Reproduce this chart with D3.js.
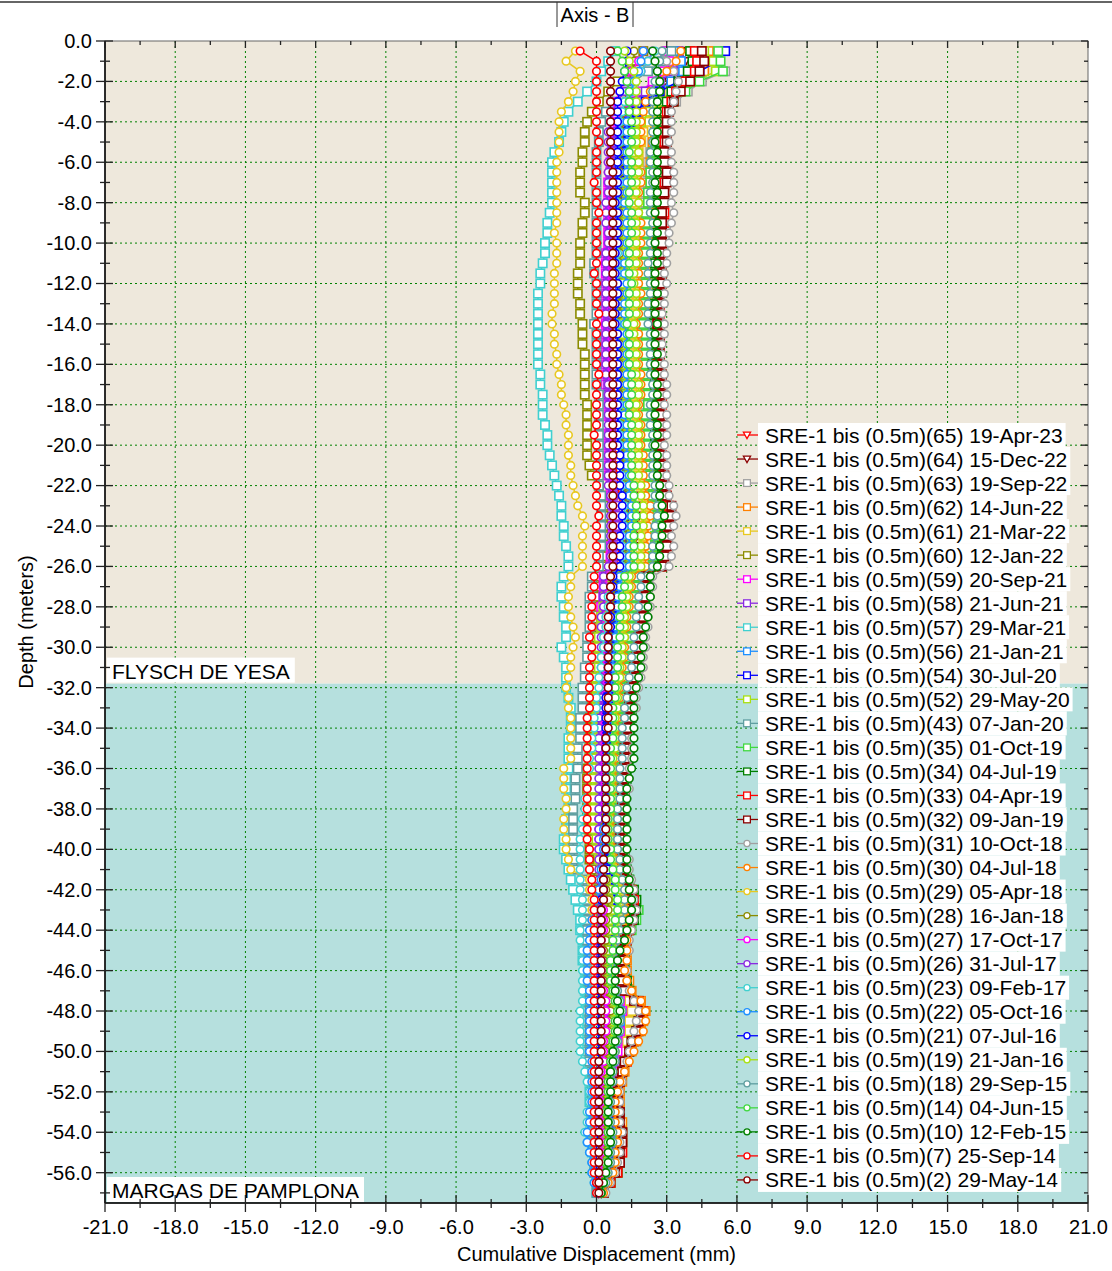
<!DOCTYPE html>
<html>
<head>
<meta charset="utf-8">
<script src="https://cdn.jsdelivr.net/npm/d3@7"></script>
<style>
  body { margin: 0; background: #fff; }
  svg { display: block; font-family: "Liberation Sans", Arial, Helvetica, sans-serif; }
</style>
</head>
<body>
<div id="chart"></div>
<script>
// readings every 0.5 m, from -0.5 m down to -57.0 m
const depths = d3.range(1, 115).map(i => -0.5 * i);

const xTicks = d3.range(-21, 21.1, 3);
const yTicks = d3.range(0, -56.1, -2);

const zones = [
  { name: "FLYSCH DE YESA", top: 0, bottom: -31.8, fill: "#eee8dc" },
  { name: "MARGAS DE PAMPLONA", top: -31.8, bottom: -57.5, fill: "#b6e0de" }
];

const seriesLabels = [
  "SRE-1 bis (0.5m)(65) 19-Apr-23", "SRE-1 bis (0.5m)(64) 15-Dec-22", "SRE-1 bis (0.5m)(63) 19-Sep-22",
  "SRE-1 bis (0.5m)(62) 14-Jun-22", "SRE-1 bis (0.5m)(61) 21-Mar-22", "SRE-1 bis (0.5m)(60) 12-Jan-22",
  "SRE-1 bis (0.5m)(59) 20-Sep-21", "SRE-1 bis (0.5m)(58) 21-Jun-21", "SRE-1 bis (0.5m)(57) 29-Mar-21",
  "SRE-1 bis (0.5m)(56) 21-Jan-21", "SRE-1 bis (0.5m)(54) 30-Jul-20", "SRE-1 bis (0.5m)(52) 29-May-20",
  "SRE-1 bis (0.5m)(43) 07-Jan-20", "SRE-1 bis (0.5m)(35) 01-Oct-19", "SRE-1 bis (0.5m)(34) 04-Jul-19",
  "SRE-1 bis (0.5m)(33) 04-Apr-19", "SRE-1 bis (0.5m)(32) 09-Jan-19", "SRE-1 bis (0.5m)(31) 10-Oct-18",
  "SRE-1 bis (0.5m)(30) 04-Jul-18", "SRE-1 bis (0.5m)(29) 05-Apr-18", "SRE-1 bis (0.5m)(28) 16-Jan-18",
  "SRE-1 bis (0.5m)(27) 17-Oct-17", "SRE-1 bis (0.5m)(26) 31-Jul-17", "SRE-1 bis (0.5m)(23) 09-Feb-17",
  "SRE-1 bis (0.5m)(22) 05-Oct-16", "SRE-1 bis (0.5m)(21) 07-Jul-16", "SRE-1 bis (0.5m)(19) 21-Jan-16",
  "SRE-1 bis (0.5m)(18) 29-Sep-15", "SRE-1 bis (0.5m)(14) 04-Jun-15", "SRE-1 bis (0.5m)(10) 12-Feb-15",
  "SRE-1 bis (0.5m)(7) 25-Sep-14", "SRE-1 bis (0.5m)(2) 29-May-14"
];

// cumulative displacement (mm) per reading, top to bottom
const s65 = [3.0,3.2,3.0,2.5,1.9,1.5,1.2,1.0,
  0.9,0.8,0.8,0.8,0.7,0.7,0.7,0.7,0.7,0.7,0.7, 0.7,0.7,0.7,0.6,0.7,0.7,0.7,0.7,0.6,0.7,0.7,
  0.7,0.7,0.7,0.7,0.8,0.8,0.8,0.8,0.8,0.8,0.8, 0.8,0.9,0.9,1.0,1.1,1.1,1.0,1.0,1.0,0.9,0.9,
  0.5,0.5,0.5,0.4,0.4,0.4,0.4,0.3,0.3,0.3, 0.3,0.3,0.3,0.2,0.2,0.2,0.2,0.2,0.2,0.2, 0.2,0.2,0.2,0.2,0.2,0.1,0.1,0.2,0.2,0.3,
  0.4,0.5,0.5,0.5,0.5,0.4,0.4,0.4, 0.4,0.4,0.4,0.5,0.7,0.8,0.7,0.7, 0.6,0.5,0.5,0.4,0.4,0.4,0.3,0.3, 0.4,0.4,0.4,0.4,0.3,0.3,0.2,0.1];
const s64 = [3.6,3.8,3.6,3.1,2.6,2.2,1.9,1.7,
  1.6,1.5,1.5,1.4,1.4,1.4,1.3,1.3,1.3,1.4,1.4, 1.3,1.3,1.3,1.3,1.3,1.2,1.2,1.3,1.3,1.3,1.3,
  1.3,1.3,1.3,1.4,1.4,1.4,1.3,1.3,1.4,1.4,1.4, 1.4,1.5,1.5,1.6,1.7,1.8,1.7,1.7,1.6,1.6,1.5,
  1.0,1.0,1.0,0.9,0.9,0.9,0.8,0.8,0.8,0.7, 0.7,0.7,0.6,0.6,0.6,0.6,0.5,0.5,0.5,0.5, 0.5,0.5,0.5,0.5,0.4,0.4,0.4,0.5,0.5,0.6,
  0.7,0.8,0.9,0.9,0.8,0.8,0.7,0.7, 0.7,0.7,0.7,0.8,1.1,1.2,1.2,1.1, 1.0,0.9,0.8,0.7,0.6,0.6,0.6,0.6, 0.7,0.7,0.7,0.7,0.6,0.5,0.4,0.2];
const s63 = [4.5,4.9,5.5,4.5,3.9,3.4,3.0,2.7,
  2.5,2.4,2.3,2.2,2.2,2.1,2.1,2.0,2.0,2.0,2.0, 2.0,1.9,1.9,1.9,2.0,2.0,1.9,1.9,1.9,2.0,2.0,
  2.0,2.0,2.0,2.1,2.1,2.0,2.0,2.1,2.1,2.1,2.1, 2.2,2.2,2.3,2.4,2.6,2.7,2.6,2.6,2.5,2.4,2.4,
  1.6,1.6,1.5,1.5,1.4,1.4,1.3,1.3,1.2,1.2, 1.1,1.1,1.0,1.0,0.9,0.9,0.9,0.9,0.8,0.8, 0.8,0.8,0.8,0.8,0.8,0.8,0.8,0.9,1.0,1.1,
  1.3,1.4,1.5,1.5,1.4,1.3,1.2,1.1, 1.1,1.1,1.1,1.2,1.5,1.7,1.6,1.5, 1.4,1.3,1.1,1.0,0.9,0.8,0.8,0.8, 0.9,1.0,1.0,0.9,0.9,0.7,0.5,0.3];
const s62 = [4.8,4.9,4.6,4.0,3.5,3.1,2.8,2.6,
  2.5,2.4,2.4,2.3,2.3,2.3,2.2,2.2,2.3,2.3,2.2, 2.2,2.2,2.1,2.1,2.2,2.2,2.1,2.1,2.1,2.2,2.2,
  2.2,2.2,2.1,2.2,2.2,2.3,2.3,2.2,2.2,2.3,2.3, 2.3,2.4,2.4,2.5,2.6,2.7,2.6,2.6,2.5,2.5,2.4,
  1.8,1.8,1.7,1.7,1.6,1.6,1.5,1.5,1.4,1.4, 1.3,1.3,1.2,1.2,1.1,1.1,1.0,1.0,1.0,1.0, 1.0,0.9,0.9,0.9,0.9,0.9,0.9,1.0,1.0,1.1,
  1.3,1.5,1.6,1.6,1.5,1.4,1.3,1.3, 1.3,1.3,1.4,1.5,1.9,2.1,2.0,1.9, 1.7,1.5,1.3,1.2,1.1,1.0,1.0,1.0, 1.1,1.1,1.1,1.1,1.0,0.9,0.6,0.3];
const s61 = [4.0,4.2,4.0,3.6,3.1,2.7,2.4,2.2,
  2.0,1.9,1.8,1.8,1.7,1.7,1.7,1.6,1.6,1.6,1.6, 1.6,1.6,1.5,1.5,1.6,1.6,1.5,1.5,1.5,1.6,1.6,
  1.6,1.6,1.6,1.7,1.7,1.7,1.7,1.7,1.7,1.8,1.8, 1.8,1.8,1.9,2.0,2.1,2.1,2.0,2.0,2.0,1.9,1.9,
  1.3,1.3,1.2,1.2,1.1,1.1,1.0,1.0,1.0,0.9, 0.9,0.9,0.8,0.8,0.8,0.7,0.7,0.7,0.7,0.7, 0.6,0.6,0.6,0.6,0.6,0.6,0.6,0.7,0.8,0.9,
  1.1,1.2,1.3,1.3,1.2,1.1,1.0,1.0, 1.0,1.0,1.0,1.1,1.4,1.5,1.4,1.4, 1.3,1.1,1.0,0.9,0.8,0.7,0.7,0.7, 0.8,0.8,0.8,0.8,0.7,0.6,0.4,0.2];
const s60 = [2.0,1.8,1.4,0.9,0.5,0.1,-0.2,-0.4,
  -0.5,-0.5,-0.6,-0.6,-0.7,-0.7,-0.7,-0.5,-0.5,-0.6,-0.6, -0.7,-0.7,-0.7,-0.8,-0.8,-0.8,-0.7,-0.7,-0.6,-0.6,-0.6,
  -0.5,-0.5,-0.5,-0.5,-0.5,-0.4,-0.4,-0.4,-0.4,-0.4,-0.4, -0.3,-0.2,0.1,0.4,0.3,0.3,0.3,0.3,0.3,0.4,0.4,
  0.1,0.1,0.0,0.1,0.2,0.1,0.0,-0.1,-0.1,-0.1, -0.2,-0.2,-0.2,-0.3,-0.3,-0.3,-0.3,-0.3,-0.3,-0.4, -0.4,-0.4,-0.4,-0.4,-0.4,-0.4,-0.3,-0.3,-0.3,-0.2,
  0.0,0.1,0.2,0.2,0.2,0.2,0.2,0.2, 0.2,0.2,0.2,0.3,0.4,0.5,0.5,0.4, 0.4,0.3,0.3,0.3,0.2,0.2,0.2,0.2, 0.3,0.3,0.3,0.3,0.2,0.2,0.1,0.1];
const s59 = [3.0,3.1,2.9,2.4,1.9,1.4,1.1,0.9,
  0.8,0.7,0.7,0.6,0.6,0.5,0.5,0.5,0.5,0.5,0.5, 0.5,0.4,0.4,0.4,0.4,0.4,0.4,0.4,0.4,0.4,0.4,
  0.4,0.4,0.4,0.4,0.5,0.5,0.5,0.4,0.5,0.5,0.5, 0.5,0.5,0.6,0.6,0.7,0.8,0.7,0.7,0.6,0.6,0.6,
  0.3,0.3,0.3,0.2,0.2,0.2,0.2,0.2,0.1,0.1, 0.1,0.1,0.1,0.1,0.1,0.1,0.1,0.1,0.1,0.1, 0.1,0.1,0.1,0.1,0.1,0.1,0.1,0.2,0.2,0.3,
  0.4,0.5,0.6,0.6,0.6,0.6,0.6,0.6, 0.6,0.6,0.7,0.8,1.0,1.1,1.0,1.0, 0.9,0.9,0.8,0.7,0.6,0.5,0.5,0.5, 0.5,0.6,0.6,0.5,0.5,0.4,0.3,0.1];
const s58 = [3.5,3.6,3.3,2.7,2.1,1.6,1.2,1.0,
  0.9,0.8,0.7,0.7,0.6,0.6,0.6,0.6,0.6,0.6,0.6, 0.6,0.5,0.5,0.5,0.5,0.5,0.5,0.5,0.5,0.5,0.5,
  0.5,0.5,0.5,0.5,0.5,0.6,0.6,0.6,0.6,0.6,0.6, 0.6,0.6,0.7,0.7,0.8,0.9,0.8,0.8,0.7,0.7,0.7,
  0.4,0.4,0.3,0.3,0.3,0.3,0.2,0.2,0.2,0.2, 0.2,0.2,0.2,0.1,0.1,0.1,0.1,0.1,0.1,0.1, 0.1,0.1,0.1,0.1,0.1,0.1,0.1,0.1,0.2,0.2,
  0.3,0.4,0.4,0.4,0.4,0.4,0.3,0.3, 0.3,0.3,0.3,0.4,0.5,0.6,0.6,0.5, 0.5,0.4,0.4,0.3,0.3,0.3,0.3,0.3, 0.3,0.4,0.4,0.3,0.3,0.2,0.2,0.1];
const s57 = [0.8,0.5,0.2,0.0,-0.4,-0.8,-1.2,-1.4,
  -1.5,-1.6,-1.8,-1.9,-1.9,-1.9,-1.9,-1.9,-2.0,-2.1,-2.1, -2.2,-2.2,-2.3,-2.4,-2.4,-2.5,-2.5,-2.5,-2.5,-2.5,-2.5,
  -2.5,-2.5,-2.4,-2.4,-2.3,-2.3,-2.3,-2.2,-2.1,-2.1,-2.0, -1.9,-1.8,-1.7,-1.6,-1.5,-1.5,-1.4,-1.4,-1.3,-1.2,-1.2,
  -1.4,-1.5,-1.5,-1.4,-1.4,-1.3,-1.3,-1.5,-1.4,-1.3, -1.3,-1.3,-1.2,-1.1,-1.1,-1.1,-1.2,-1.2,-1.2,-1.2, -1.3,-1.3,-1.2,-1.2,-1.3,-1.3,-1.4,-1.4,-1.3,-1.2,
  -1.1,-1.0,-0.9,-0.8,-0.7,-0.7,-0.6,-0.6, -0.6,-0.5,-0.5,-0.5,-0.4,-0.4,-0.4,-0.4, -0.4,-0.4,-0.3,-0.3,-0.3,-0.3,-0.3,-0.2, -0.2,-0.2,-0.2,-0.2,-0.1,-0.1,0.0,0.0];
const s56 = [3.3,3.6,3.7,3.2,2.6,2.1,1.8,1.5,
  1.4,1.3,1.3,1.2,1.2,1.2,1.2,1.1,1.2,1.2,1.2, 1.2,1.1,1.1,1.1,1.2,1.1,1.1,1.1,1.1,1.1,1.2,
  1.2,1.2,1.2,1.2,1.2,1.2,1.1,1.2,1.2,1.2,1.2, 1.2,1.3,1.3,1.4,1.5,1.5,1.4,1.4,1.4,1.3,1.3,
  0.9,0.9,0.8,0.8,0.8,0.7,0.7,0.7,0.7,0.6, 0.6,0.6,0.5,0.5,0.5,0.5,0.4,0.4,0.4,0.4, 0.4,0.4,0.4,0.3,0.3,0.3,0.3,0.4,0.4,0.5,
  0.6,0.7,0.7,0.7,0.7,0.6,0.6,0.6, 0.6,0.6,0.6,0.7,0.9,1.0,1.0,0.9, 0.8,0.7,0.7,0.6,0.5,0.5,0.5,0.5, 0.6,0.6,0.6,0.6,0.5,0.4,0.3,0.2];
const s54 = [5.5,5.2,4.4,3.5,2.7,2.1,1.7,1.4,
  1.2,1.1,1.1,1.0,1.0,1.0,1.0,1.0,1.0,1.1,1.1, 1.1,1.0,1.0,1.0,1.0,1.0,1.0,1.0,1.0,1.0,1.1,
  1.1,1.1,1.0,1.1,1.1,1.1,1.1,1.1,1.1,1.1,1.2, 1.2,1.2,1.3,1.4,1.5,1.5,1.4,1.3,1.3,1.2,1.2,
  0.8,0.8,0.7,0.7,0.7,0.6,0.6,0.6,0.6,0.5, 0.5,0.5,0.5,0.4,0.4,0.4,0.4,0.4,0.4,0.3, 0.3,0.3,0.3,0.3,0.3,0.2,0.2,0.3,0.3,0.4,
  0.5,0.5,0.6,0.6,0.5,0.5,0.5,0.4, 0.4,0.4,0.4,0.5,0.7,0.8,0.7,0.7, 0.6,0.6,0.5,0.5,0.4,0.4,0.4,0.4, 0.5,0.5,0.5,0.5,0.4,0.3,0.2,0.1];
const s52 = [4.6,5.0,5.1,4.2,3.4,2.8,2.3,1.9,
  1.7,1.6,1.5,1.4,1.4,1.3,1.3,1.3,1.2,1.2,1.2, 1.2,1.1,1.1,1.1,1.2,1.2,1.1,1.1,1.1,1.1,1.2,
  1.2,1.2,1.2,1.2,1.3,1.3,1.2,1.2,1.3,1.3,1.3, 1.3,1.4,1.4,1.5,1.6,1.6,1.5,1.5,1.5,1.4,1.4,
  0.6,0.5,0.4,0.3,0.2,0.2,0.1,0.1,0.1,0.1, 0.0,0.0,0.0,0.0,0.0,0.0,0.0,0.0,-0.1,-0.1, -0.1,-0.1,-0.1,-0.1,-0.1,-0.1,0.0,0.0,0.1,0.2,
  0.4,0.5,0.5,0.6,0.5,0.5,0.4,0.4, 0.4,0.4,0.4,0.5,0.7,0.8,0.7,0.7, 0.6,0.5,0.5,0.4,0.4,0.4,0.3,0.3, 0.4,0.4,0.4,0.4,0.3,0.3,0.2,0.1];
const s43 = [3.2,2.8,2.2,1.6,1.1,0.7,0.4,0.2,
  0.1,0.1,0.0,0.0,0.0,0.0,0.0,0.0,0.0,0.0,0.0, 0.0,0.0,-0.1,-0.1,0.0,0.0,0.0,0.0,-0.1,0.0,0.0,
  0.0,0.0,0.0,0.0,0.1,0.1,0.1,0.1,0.1,0.1,0.1, 0.1,0.1,0.1,0.2,0.2,0.2,0.2,0.2,0.2,0.1,0.1,
  -0.2,-0.2,-0.3,-0.3,-0.3,-0.3,-0.4,-0.4,-0.4,-0.5, -0.5,-0.6,-0.6,-0.6,-0.7,-0.7,-0.7,-0.8,-0.8,-0.8, -0.9,-0.9,-0.9,-1.0,-1.0,-1.0,-1.0,-1.0,-0.9,-0.8,
  -0.6,-0.5,-0.4,-0.4,-0.4,-0.4,-0.4,-0.4, -0.4,-0.4,-0.4,-0.3,-0.3,-0.3,-0.3,-0.3, -0.3,-0.3,-0.3,-0.2,-0.2,-0.2,-0.2,-0.2, -0.2,-0.2,-0.2,-0.1,-0.1,-0.1,0.0,0.0];
const s35 = [5.2,5.3,5.4,4.4,3.8,3.3,3.0,2.7,
  2.6,2.5,2.4,2.4,2.3,2.3,2.2,2.2,2.1,2.1,2.1, 2.1,2.1,2.0,2.0,2.1,2.1,2.0,2.0,2.0,2.1,2.1,
  2.1,2.1,2.1,2.1,2.2,2.2,2.1,2.1,2.2,2.2,2.2, 2.2,2.3,2.3,2.4,2.5,2.6,2.6,2.5,2.5,2.4,2.4,
  1.7,1.7,1.6,1.6,1.5,1.5,1.4,1.4,1.3,1.3, 1.2,1.2,1.1,1.1,1.0,1.0,1.0,0.9,0.9,0.9, 0.9,0.9,0.8,0.8,0.8,0.9,0.9,1.0,1.1,1.2,
  1.4,1.6,1.7,1.8,1.7,1.5,1.3,1.2, 1.2,1.2,1.3,1.4,1.8,2.0,1.9,1.8, 1.6,1.4,1.2,1.1,1.0,0.9,0.9,0.9, 1.0,1.0,1.0,1.0,0.9,0.8,0.5,0.3];
const s34 = [4.0,4.1,3.9,3.5,3.2,3.0,2.9,2.8,
  2.8,2.7,2.7,2.8,2.7,2.7,2.6,2.6,2.7,2.7,2.6, 2.6,2.6,2.5,2.5,2.6,2.6,2.5,2.4,2.4,2.5,2.5,
  2.5,2.4,2.5,2.5,2.6,2.6,2.5,2.6,2.5,2.5,2.6, 2.6,2.7,2.7,2.8,3.0,3.0,2.9,2.9,2.8,2.8,2.7,
  2.2,2.2,2.1,2.1,2.0,2.0,1.9,1.9,1.8,1.8, 1.7,1.6,1.5,1.5,1.5,1.4,1.4,1.4,1.4,1.3, 1.3,1.2,1.2,1.2,1.2,1.2,1.1,1.2,1.2,1.3,
  1.4,1.6,1.7,1.7,1.6,1.4,1.3,1.2, 1.2,1.2,1.3,1.4,1.7,1.9,1.8,1.7, 1.5,1.4,1.2,1.1,1.0,0.9,0.9,0.9, 1.0,1.1,1.1,1.0,1.0,0.9,0.6,0.3];
const s33 = [4.2,4.3,4.2,3.8,3.4,3.2,3.0,3.0,
  2.9,2.9,2.9,3.0,3.0,2.9,2.9,2.8,2.9,2.9,2.8, 2.8,2.8,2.7,2.7,2.8,2.7,2.7,2.7,2.6,2.7,2.7,
  2.7,2.6,2.7,2.7,2.8,2.8,2.7,2.8,2.8,2.7,2.8, 2.8,2.8,2.9,3.0,3.1,3.1,3.0,2.9,3.0,2.9,2.8,
  2.1,2.1,2.0,2.0,1.9,1.9,1.8,1.8,1.7,1.7, 1.6,1.5,1.5,1.4,1.4,1.3,1.3,1.3,1.3,1.2, 1.2,1.2,1.1,1.1,1.1,1.1,1.1,1.1,1.2,1.2,
  1.3,1.5,1.6,1.6,1.5,1.4,1.3,1.2, 1.1,1.1,1.2,1.3,1.8,2.0,1.9,1.8, 1.6,1.4,1.3,1.1,1.0,0.9,0.9,0.9, 1.0,1.1,1.1,1.1,1.0,0.9,0.6,0.3];
const s32 = [4.5,4.6,4.4,4.0,3.6,3.3,3.1,3.0,
  3.0,3.0,2.9,2.9,3.0,3.0,2.9,2.9,2.8,2.8,2.8, 2.8,2.7,2.7,2.8,2.8,2.7,2.7,2.6,2.6,2.7,2.7,
  2.7,2.7,2.8,2.8,2.8,2.7,2.7,2.8,2.7,2.7,2.7, 2.8,2.9,2.9,3.0,3.2,3.2,3.1,3.0,3.0,2.9,2.8,
  2.1,2.1,2.1,2.0,2.0,1.9,1.8,1.8,1.7,1.6, 1.6,1.5,1.4,1.4,1.4,1.3,1.3,1.2,1.2,1.2, 1.2,1.1,1.1,1.1,1.1,1.0,1.0,1.1,1.1,1.2,
  1.3,1.4,1.5,1.6,1.5,1.3,1.2,1.1, 1.1,1.1,1.1,1.2,1.6,1.9,1.8,1.7, 1.5,1.4,1.2,1.1,1.0,0.9,0.9,1.0, 1.0,1.1,1.1,1.0,1.0,0.8,0.5,0.3];
const s31 = [2.8,3.0,3.3,3.5,3.4,3.3,3.2,3.2,
  3.2,3.1,3.2,3.2,3.3,3.3,3.3,3.2,3.3,3.2,3.1, 3.1,3.0,3.0,2.9,3.0,2.9,2.9,2.8,2.9,2.9,2.8,
  2.8,2.9,2.9,3.0,3.0,2.9,3.0,3.0,3.0,2.9,3.0, 3.0,3.0,3.1,3.1,3.3,3.4,3.3,3.2,3.3,3.2,3.1,
  2.4,2.4,2.3,2.3,2.2,2.2,2.1,2.1,2.0,2.0, 1.9,1.8,1.7,1.7,1.6,1.6,1.5,1.5,1.5,1.4, 1.4,1.4,1.3,1.3,1.3,1.3,1.3,1.3,1.4,1.4,
  1.5,1.6,1.6,1.7,1.6,1.5,1.4,1.4, 1.3,1.3,1.3,1.4,1.6,1.8,1.7,1.6, 1.5,1.4,1.3,1.2,1.1,1.0,1.0,1.0, 1.0,1.1,1.0,1.0,0.9,0.8,0.6,0.4];
const s30 = [3.6,3.4,3.0,2.6,2.3,2.1,2.0,1.9,
  1.9,1.9,1.8,1.8,1.9,1.9,1.8,1.8,1.8,1.9,1.9, 1.9,1.8,1.8,1.8,1.8,1.9,1.8,1.8,1.7,1.8,1.8,
  1.8,1.8,1.9,1.9,1.9,1.8,1.8,1.9,1.9,1.9,2.0, 2.0,2.0,2.1,2.1,2.3,2.3,2.2,2.2,2.1,2.1,2.1,
  1.5,1.5,1.4,1.4,1.3,1.3,1.2,1.2,1.2,1.1, 1.1,1.0,1.0,0.9,0.9,0.9,0.9,0.8,0.8,0.8, 0.8,0.8,0.7,0.7,0.7,0.7,0.7,0.8,0.9,1.0,
  1.1,1.2,1.3,1.3,1.3,1.3,1.3,1.3, 1.3,1.2,1.3,1.5,1.9,2.1,2.1,2.0, 1.8,1.6,1.4,1.2,1.0,0.9,0.8,0.8, 0.8,0.9,0.9,0.8,0.8,0.7,0.5,0.3];
const s29 = [-0.9,-1.3,-0.7,-0.9,-1.0,-1.2,-1.5,-1.6,
  -1.6,-1.6,-1.6,-1.7,-1.7,-1.7,-1.7,-1.7,-1.7,-1.7,-1.8, -1.7,-1.7,-1.7,-1.8,-1.8,-1.8,-1.8,-1.9,-1.9,-1.8,-1.8,
  -1.7,-1.7,-1.6,-1.5,-1.5,-1.4,-1.3,-1.3,-1.2,-1.2,-1.2, -1.1,-1.1,-1.0,-0.9,-0.8,-0.6,-0.5,-0.6,-0.6,-0.6,-0.6,
  -1.1,-1.1,-1.2,-1.2,-1.1,-1.0,-0.9,-1.0,-1.1,-1.1, -1.2,-1.3,-1.2,-1.2,-1.1,-1.1,-1.1,-1.1,-1.1,-1.4, -1.4,-1.4,-1.3,-1.3,-1.4,-1.4,-1.3,-1.3,-1.2,-1.1,
  -0.3,-0.3,-0.2,-0.2,-0.2,-0.2,-0.1,-0.1, -0.1,-0.1,0.0,0.0,0.1,0.1,0.1,0.1, 0.1,0.0,0.0,0.1,0.1,0.0,0.0,0.1, 0.1,0.1,0.0,0.0,0.1,0.1,0.0,0.0];
const s28 = [1.6,1.6,1.5,1.4,1.3,1.2,1.2,1.1,
  1.1,1.1,1.0,1.0,1.0,1.0,1.0,1.0,1.0,1.0,1.0, 1.0,1.0,1.0,0.9,0.9,1.0,1.0,1.0,0.9,0.9,1.0,
  1.0,1.0,1.0,1.0,1.0,1.0,1.0,1.1,1.1,1.1,1.1, 1.1,1.1,1.2,1.2,1.3,1.3,1.3,1.2,1.2,1.2,1.2,
  0.8,0.8,0.7,0.7,0.7,0.6,0.6,0.6,0.6,0.5, 0.5,0.5,0.5,0.4,0.4,0.4,0.4,0.4,0.3,0.3, 0.3,0.3,0.3,0.3,0.2,0.2,0.2,0.2,0.3,0.3,
  0.4,0.4,0.5,0.5,0.4,0.4,0.4,0.3, 0.3,0.3,0.3,0.4,0.5,0.6,0.5,0.5, 0.4,0.4,0.4,0.3,0.3,0.3,0.3,0.3, 0.3,0.4,0.4,0.3,0.3,0.3,0.2,0.1];
const s27 = [2.0,1.8,1.5,1.2,1.0,0.8,0.7,0.6,
  0.6,0.6,0.6,0.5,0.5,0.5,0.5,0.5,0.5,0.5,0.5, 0.5,0.5,0.5,0.5,0.5,0.5,0.5,0.4,0.4,0.5,0.5,
  0.5,0.5,0.5,0.5,0.5,0.6,0.6,0.6,0.6,0.6,0.6, 0.6,0.6,0.6,0.7,0.7,0.7,0.7,0.7,0.7,0.7,0.6,
  0.4,0.4,0.4,0.3,0.3,0.3,0.3,0.3,0.3,0.3, 0.3,0.3,0.2,0.2,0.2,0.2,0.2,0.2,0.2,0.2, 0.2,0.2,0.2,0.2,0.1,0.1,0.1,0.1,0.2,0.2,
  0.3,0.3,0.3,0.3,0.3,0.3,0.2,0.2, 0.2,0.2,0.2,0.3,0.4,0.4,0.4,0.4, 0.3,0.3,0.3,0.2,0.2,0.2,0.2,0.2, 0.2,0.2,0.2,0.2,0.2,0.2,0.1,0.1];
const s26 = [2.4,2.2,1.9,1.5,1.2,0.9,0.7,0.6,
  0.5,0.5,0.5,0.5,0.5,0.5,0.5,0.4,0.4,0.4,0.5, 0.5,0.4,0.4,0.4,0.4,0.4,0.4,0.4,0.4,0.4,0.4,
  0.4,0.4,0.4,0.5,0.5,0.5,0.5,0.5,0.5,0.5,0.5, 0.5,0.5,0.5,0.6,0.6,0.6,0.6,0.6,0.6,0.6,0.5,
  0.3,0.3,0.3,0.3,0.2,0.2,0.2,0.2,0.2,0.2, 0.2,0.2,0.2,0.2,0.1,0.1,0.1,0.1,0.1,0.1, 0.1,0.1,0.1,0.1,0.1,0.1,0.1,0.1,0.1,0.1,
  0.1,0.1,0.1,0.1,0.1,0.1,0.0,0.0, 0.0,0.0,0.0,0.1,0.1,0.1,0.1,0.1, 0.1,0.1,0.1,0.0,0.0,0.0,0.0,0.0, 0.0,0.0,0.1,0.1,0.1,0.1,0.0,0.0];
const s23 = [2.5,2.2,1.9,1.6,1.4,1.2,1.1,1.0,
  1.0,1.0,0.9,0.9,0.9,1.0,0.9,0.9,0.9,0.9,0.9, 0.9,0.9,0.9,0.9,0.9,0.9,0.8,0.8,0.9,0.9,0.9,
  0.9,0.9,0.9,0.9,0.9,1.0,1.0,1.0,1.0,1.0,1.0, 1.0,1.1,1.1,1.1,1.2,1.2,1.2,1.1,1.1,1.1,1.1,
  0.6,0.6,0.5,0.5,0.4,0.4,0.3,0.3,0.2,0.2, 0.1,0.1,0.0,0.0,-0.1,-0.1,-0.2,-0.2,-0.3,-0.3, -0.4,-0.4,-0.5,-0.5,-0.6,-0.6,-0.7,-0.7,-0.7,-0.7,
  -0.7,-0.7,-0.6,-0.6,-0.6,-0.7,-0.7,-0.6, -0.6,-0.6,-0.6,-0.6,-0.6,-0.7,-0.7,-0.7, -0.7,-0.7,-0.6,-0.5,-0.4,-0.3,-0.3,-0.4, -0.4,-0.5,-0.4,-0.3,-0.2,-0.2,-0.1,0.0];
const s22 = [2.0,1.9,1.8,1.6,1.5,1.4,1.4,1.3,
  1.3,1.3,1.3,1.3,1.3,1.3,1.3,1.2,1.3,1.3,1.3, 1.3,1.3,1.2,1.2,1.3,1.3,1.2,1.2,1.2,1.3,1.3,
  1.3,1.3,1.3,1.3,1.3,1.3,1.2,1.3,1.3,1.3,1.3, 1.3,1.4,1.4,1.4,1.5,1.5,1.5,1.4,1.4,1.4,1.4,
  1.0,1.0,0.9,0.9,0.9,0.8,0.8,0.8,0.7,0.7, 0.7,0.6,0.6,0.6,0.6,0.5,0.5,0.5,0.5,0.5, 0.4,0.4,0.4,0.4,0.4,0.3,0.3,0.3,0.3,0.2,
  0.2,0.1,0.0,-0.1,-0.2,-0.3,-0.3,-0.4, -0.4,-0.4,-0.4,-0.3,-0.3,-0.3,-0.3,-0.3, -0.3,-0.3,-0.2,-0.2,-0.2,-0.2,-0.2,-0.3, -0.3,-0.4,-0.4,-0.3,-0.2,-0.2,-0.1,0.0];
const s21 = [1.3,1.3,1.2,1.1,1.0,0.9,0.9,0.9,
  0.9,0.9,0.9,0.9,0.9,0.9,0.9,0.8,0.9,0.9,0.9, 0.9,0.8,0.8,0.8,0.9,0.9,0.8,0.8,0.8,0.9,0.9,
  0.9,0.9,0.9,0.9,0.9,0.9,0.9,0.9,0.9,0.9,1.0, 1.0,1.0,1.0,1.1,1.1,1.1,1.1,1.0,1.0,1.0,1.0,
  0.7,0.7,0.6,0.6,0.6,0.6,0.5,0.5,0.5,0.5, 0.5,0.5,0.4,0.4,0.4,0.4,0.4,0.4,0.4,0.4, 0.4,0.4,0.4,0.4,0.4,0.4,0.4,0.4,0.4,0.3,
  0.3,0.3,0.2,0.2,0.2,0.2,0.1,0.1, 0.1,0.1,0.1,0.1,0.1,0.1,0.1,0.1, 0.1,0.1,0.1,0.1,0.1,0.1,0.1,0.1, 0.1,0.1,0.0,0.0,0.0,0.0,0.0,0.1];
const s19 = [1.2,1.4,1.6,1.7,1.7,1.7,1.7,1.7,
  1.7,1.7,1.8,1.8,1.8,1.7,1.7,1.8,1.8,1.7,1.7, 1.7,1.7,1.7,1.6,1.6,1.7,1.7,1.7,1.6,1.6,1.7,
  1.7,1.7,1.7,1.8,1.8,1.7,1.7,1.8,1.8,1.8,1.8, 1.8,1.8,1.9,1.9,2.0,2.0,2.0,1.9,1.9,1.9,1.9,
  1.4,1.4,1.3,1.3,1.2,1.2,1.2,1.1,1.1,1.0, 1.0,0.9,0.9,0.9,0.8,0.8,0.8,0.8,0.7,0.7, 0.7,0.7,0.7,0.7,0.6,0.6,0.6,0.7,0.7,0.8,
  0.9,1.0,1.0,1.0,0.9,0.9,0.8,0.8, 0.7,0.7,0.7,0.8,0.9,1.0,1.0,0.9, 0.8,0.8,0.7,0.7,0.6,0.6,0.5,0.5, 0.5,0.6,0.6,0.5,0.5,0.4,0.3,0.2];
const s18 = [2.8,2.7,2.6,2.5,2.4,2.4,2.4,2.4,
  2.4,2.4,2.3,2.3,2.4,2.4,2.3,2.3,2.3,2.4,2.3, 2.3,2.3,2.2,2.2,2.3,2.3,2.2,2.2,2.2,2.3,2.3,
  2.3,2.3,2.3,2.4,2.4,2.3,2.3,2.3,2.4,2.4,2.4, 2.4,2.4,2.5,2.5,2.6,2.6,2.5,2.5,2.4,2.4,2.4,
  1.9,1.9,1.8,1.8,1.7,1.7,1.6,1.6,1.5,1.5, 1.4,1.3,1.3,1.2,1.2,1.1,1.1,1.1,1.1,1.0, 1.0,1.0,1.0,0.9,0.9,0.9,0.9,0.9,1.0,1.0,
  1.1,1.2,1.2,1.2,1.1,1.0,0.9,0.9, 0.8,0.8,0.8,0.9,1.0,1.1,1.0,1.0, 0.9,0.8,0.8,0.7,0.7,0.6,0.6,0.6, 0.6,0.7,0.7,0.6,0.6,0.5,0.4,0.2];
const s14 = [0.9,1.1,1.2,1.3,1.4,1.4,1.4,1.5,
  1.5,1.5,1.4,1.5,1.5,1.5,1.4,1.4,1.5,1.5,1.5, 1.4,1.4,1.4,1.4,1.5,1.4,1.4,1.4,1.3,1.4,1.4,
  1.4,1.4,1.5,1.5,1.5,1.4,1.4,1.5,1.5,1.5,1.5, 1.5,1.5,1.6,1.6,1.7,1.7,1.7,1.6,1.6,1.6,1.6,
  1.2,1.2,1.1,1.1,1.0,1.0,1.0,0.9,0.9,0.9, 0.8,0.8,0.8,0.7,0.7,0.7,0.7,0.6,0.6,0.6, 0.6,0.6,0.6,0.6,0.5,0.5,0.5,0.6,0.6,0.7,
  0.8,0.8,0.9,0.9,0.8,0.8,0.7,0.7, 0.6,0.6,0.6,0.7,0.8,0.9,0.8,0.8, 0.7,0.7,0.6,0.6,0.5,0.5,0.5,0.4, 0.5,0.5,0.5,0.5,0.4,0.4,0.3,0.2];
const s10 = [2.4,2.5,2.6,2.7,2.7,2.6,2.6,2.6,
  2.6,2.5,2.6,2.6,2.6,2.5,2.6,2.6,2.5,2.6,2.6, 2.5,2.6,2.6,2.5,2.5,2.6,2.5,2.5,2.6,2.5,2.5,
  2.6,2.5,2.5,2.6,2.6,2.5,2.5,2.6,2.6,2.5,2.6, 2.6,2.6,2.7,2.7,2.8,2.9,2.8,2.8,2.7,2.7,2.6,
  2.3,2.3,2.3,2.2,2.2,2.1,2.0,2.0,1.9,1.9, 1.8,1.7,1.6,1.6,1.6,1.6,1.6,1.6,1.6,1.5, 1.4,1.3,1.3,1.3,1.3,1.3,1.3,1.3,1.3,1.3,
  1.4,1.4,1.5,1.5,1.4,1.3,1.2,1.0, 0.9,0.8,0.8,0.8,0.9,1.0,0.9,0.9, 0.8,0.7,0.7,0.6,0.6,0.6,0.5,0.5, 0.5,0.6,0.6,0.5,0.5,0.4,0.3,0.2];
const s7 = [-0.7,0.0,0.0,0.0,0.0,0.0,0.0,0.0,
  0.0,0.1,0.0,0.0,0.0,-0.1,0.0,0.0,0.1,0.0,0.0, 0.0,0.0,0.0,-0.1,0.0,0.0,0.0,0.1,0.0,0.0,0.0,
  0.0,0.0,0.1,0.0,0.0,0.0,0.0,0.0,-0.1,0.0,0.0, 0.0,0.0,0.0,0.0,0.0,0.1,0.0,0.0,0.0,0.0,0.0,
  -0.1,-0.1,-0.2,-0.2,-0.2,-0.2,-0.3,-0.2,-0.2,-0.3, -0.3,-0.3,-0.3,-0.3,-0.4,-0.4,-0.4,-0.4,-0.4,-0.4, -0.4,-0.4,-0.4,-0.4,-0.4,-0.4,-0.4,-0.3,-0.3,-0.3,
  -0.2,-0.2,-0.1,-0.1,-0.1,-0.1,-0.1,-0.1, -0.1,-0.1,-0.1,-0.1,-0.1,-0.1,-0.1,-0.1, -0.1,-0.1,-0.1,-0.1,-0.1,-0.1,-0.1,-0.1, -0.1,-0.1,-0.1,-0.1,-0.1,-0.1,0.0,0.0];
const s2 = [0.6,0.6,0.6,0.6,0.6,0.6,0.6,0.6,
  0.6,0.6,0.6,0.6,0.7,0.7,0.7,0.7,0.7,0.7,0.7, 0.7,0.7,0.7,0.7,0.7,0.7,0.7,0.7,0.7,0.7,0.7,
  0.7,0.7,0.7,0.7,0.7,0.7,0.7,0.7,0.7,0.7,0.7, 0.7,0.7,0.7,0.7,0.7,0.7,0.7,0.7,0.7,0.7,0.7,
  0.6,0.6,0.6,0.6,0.5,0.5,0.5,0.5,0.5,0.5, 0.5,0.5,0.5,0.5,0.5,0.5,0.4,0.4,0.4,0.4, 0.4,0.4,0.4,0.4,0.4,0.4,0.4,0.4,0.3,0.3,
  0.3,0.3,0.3,0.2,0.2,0.2,0.2,0.2, 0.2,0.2,0.2,0.2,0.2,0.2,0.2,0.2, 0.2,0.2,0.1,0.1,0.1,0.1,0.1,0.1, 0.1,0.1,0.1,0.1,0.1,0.1,0.1,0.1];

const seriesValues = [s65, s64, s63, s62, s61, s60, s59, s58, s57, s56, s54, s52, s43, s35, s34, s33,
  s32, s31, s30, s29, s28, s27, s26, s23, s22, s21, s19, s18, s14, s10, s7, s2];

const palette = {
  red: "#ff0000", darkred: "#8b0000", gray: "#a0a0a0", orange: "#ff8000", yellow: "#e8c820",
  olive: "#8b8b00", magenta: "#ff00ff", purple: "#8a2be2", cyan: "#40d0d0", dodger: "#1e90ff",
  blue: "#0000ff", yellowgreen: "#a8e010", cadet: "#5f9ea0", lightgreen: "#40d840", green: "#008000"
};
const seriesColors = ["red", "darkred", "gray", "orange", "yellow", "olive", "magenta", "purple", "cyan", "dodger",
  "blue", "yellowgreen", "cadet", "lightgreen", "green", "red", "darkred", "gray", "orange", "yellow", "olive",
  "magenta", "purple", "cyan", "dodger", "blue", "yellowgreen", "cadet", "lightgreen", "green", "red", "darkred"]
  .map(c => palette[c]);
const seriesShapes = ["tri", "tri", "sq", "sq", "sq", "sq", "sq", "sq", "sq", "sq", "sq", "sq", "sq", "sq", "sq", "sq",
  "sq", "circ", "circ", "circ", "circ", "circ", "circ", "circ", "circ", "circ", "circ", "circ", "circ", "circ", "circ", "circ"];

const width = 1112, height = 1271;
const margin = { left: 105, right: 24, top: 41, bottom: 68 };

const x = d3.scaleLinear().domain([-21, 21]).range([margin.left, width - margin.right]);
const y = d3.scaleLinear().domain([0, -57.5]).range([margin.top, height - margin.bottom]);

const svg = d3.select("#chart").append("svg")
  .attr("width", width).attr("height", height);

svg.append("rect").attr("width", width).attr("height", height).attr("fill", "#fff");

// frame line and title tab
svg.append("line").attr("x1", 0).attr("x2", width).attr("y1", 2).attr("y2", 2)
  .attr("stroke", "#333").attr("stroke-width", 1.5);
[557, 633].forEach(px => {
  svg.append("line").attr("x1", px).attr("x2", px).attr("y1", 2).attr("y2", 27)
    .attr("stroke", "#333").attr("stroke-width", 1);
});
svg.append("text").attr("x", 595).attr("y", 22).attr("text-anchor", "middle")
  .attr("font-size", 20).text("Axis - B");

// geology zones
svg.selectAll("rect.zone").data(zones).enter().append("rect")
  .attr("class", "zone")
  .attr("x", x(-21)).attr("width", x(21) - x(-21))
  .attr("y", d => y(d.top)).attr("height", d => y(d.bottom) - y(d.top))
  .attr("fill", d => d.fill);

// grid
const grid = svg.append("g").attr("stroke", "#008000").attr("stroke-width", 1).attr("stroke-dasharray", "2,3");
grid.selectAll("line.v").data(xTicks.slice(1, -1)).enter().append("line")
  .attr("x1", d => x(d)).attr("x2", d => x(d)).attr("y1", y(0)).attr("y2", y(-57.5));
grid.selectAll("line.h").data(yTicks.slice(1)).enter().append("line")
  .attr("x1", x(-21)).attr("x2", x(21)).attr("y1", d => y(d)).attr("y2", d => y(d));

// zone labels
zones.forEach(z => {
  const g = svg.append("g");
  const t = g.append("text").attr("x", x(-21) + 7).attr("y", y(z.bottom) - 5)
    .attr("font-size", 21).text(z.name);
  const bb = t.node().getBBox();
  g.insert("rect", "text").attr("x", x(-21) + 2).attr("y", y(z.bottom) - 26)
    .attr("width", bb.width + 10).attr("height", 25).attr("fill", "#fff");
});

// series
const line = d3.line().x(d => x(d[0])).y(d => y(d[1]));

function drawMarker(sel, shape, color) {
  if (shape === "circ") {
    sel.append("circle").attr("r", 3.8);
  } else if (shape === "sq") {
    sel.append("rect").attr("x", -4.2).attr("y", -4.2).attr("width", 8.4).attr("height", 8.4);
  } else {
    sel.append("path").attr("d", "M-4.5,-3.5L4.5,-3.5L0,4.5Z");
  }
  sel.selectAll("circle,rect,path").attr("fill", "#fff").attr("stroke", color).attr("stroke-width", 1.6);
}

const plot = svg.append("g");
seriesValues.forEach((vals, k) => {
  const pts = vals.map((v, i) => [v, depths[i]]).filter(p => p[1] !== undefined);
  const g = plot.append("g");
  g.append("path").attr("d", line(pts)).attr("fill", "none")
    .attr("stroke", seriesColors[k]).attr("stroke-width", 1.5);
  pts.forEach(p => {
    const m = g.append("g").attr("transform", `translate(${x(p[0])},${y(p[1])})`);
    drawMarker(m, seriesShapes[k], seriesColors[k]);
  });
});

// axes frame
svg.append("rect").attr("x", x(-21)).attr("y", y(0)).attr("width", x(21) - x(-21)).attr("height", y(-57.5) - y(0))
  .attr("fill", "none").attr("stroke", "#666").attr("stroke-width", 1);
svg.append("line").attr("x1", x(-21)).attr("x2", x(-21)).attr("y1", y(0)).attr("y2", y(-57.5))
  .attr("stroke", "#000").attr("stroke-width", 1.5);
svg.append("line").attr("x1", x(-21)).attr("x2", x(21)).attr("y1", y(-57.5)).attr("y2", y(-57.5))
  .attr("stroke", "#000").attr("stroke-width", 1.5);

// ticks
const ticks = svg.append("g").attr("stroke", "#222").attr("stroke-width", 1.3);
d3.range(0, -57.1, -1).forEach(d => {
  const major = d % 2 === 0;
  ticks.append("line").attr("x1", x(-21) - (major ? 9 : 5)).attr("x2", x(-21) + (major ? 8 : 5))
    .attr("y1", y(d)).attr("y2", y(d));
  ticks.append("line").attr("x1", x(21) - (major ? 7 : 4)).attr("x2", x(21))
    .attr("y1", y(d)).attr("y2", y(d));
});
d3.range(-21, 21.1, 1.5).forEach(d => {
  const major = Math.abs(d % 3) < 0.01;
  ticks.append("line").attr("x1", x(d)).attr("x2", x(d))
    .attr("y1", y(-57.5) - (major ? 8 : 4)).attr("y2", y(-57.5) + (major ? 9 : 5));
  ticks.append("line").attr("x1", x(d)).attr("x2", x(d))
    .attr("y1", y(0)).attr("y2", y(0) + (major ? 7 : 4));
});

const fmt = d => (Math.abs(d) < 1e-9 ? 0 : d).toFixed(1);

svg.append("g").attr("transform", `translate(${x(-21)},0)`)
  .call(d3.axisLeft(y).tickValues(yTicks).tickFormat(fmt).tickSize(0).tickPadding(13))
  .call(g => g.select(".domain").remove())
  .call(g => g.selectAll("text").attr("font-size", 20).attr("fill", "#000")
    .attr("font-family", "Liberation Sans, Arial, sans-serif"));

svg.append("g").attr("transform", `translate(0,${y(-57.5)})`)
  .call(d3.axisBottom(x).tickValues(xTicks).tickFormat(fmt).tickSize(0).tickPadding(17))
  .call(g => g.select(".domain").remove())
  .call(g => g.selectAll("text").attr("font-size", 20).attr("fill", "#000")
    .attr("font-family", "Liberation Sans, Arial, sans-serif"));

svg.append("text").attr("x", x(0)).attr("y", 1261).attr("text-anchor", "middle")
  .attr("font-size", 20).text("Cumulative Displacement (mm)");
svg.append("text").attr("transform", `translate(33,${(y(0) + y(-57.5)) / 2}) rotate(-90)`)
  .attr("text-anchor", "middle").attr("font-size", 20).text("Depth (meters)");

// legend
const legend = svg.append("g").attr("transform", "translate(737,435)");
seriesLabels.forEach((name, k) => {
  const row = legend.append("g").attr("transform", `translate(0,${k * 24.03})`);
  const t = row.append("text").attr("x", 28).attr("y", 7.5).attr("font-size", 21).text(name);
  const bb = t.node().getBBox();
  row.insert("rect", "text").attr("x", 21).attr("y", -12).attr("width", bb.width + 10).attr("height", 24)
    .attr("fill", "#fff");
  row.append("line").attr("x1", 0).attr("x2", 21).attr("y1", 0).attr("y2", 0)
    .attr("stroke", seriesColors[k]).attr("stroke-width", 1.3);
  const m = row.append("g").attr("transform", "translate(10,0) scale(0.8)");
  drawMarker(m, seriesShapes[k], seriesColors[k]);
});
</script>
</body>
</html>
